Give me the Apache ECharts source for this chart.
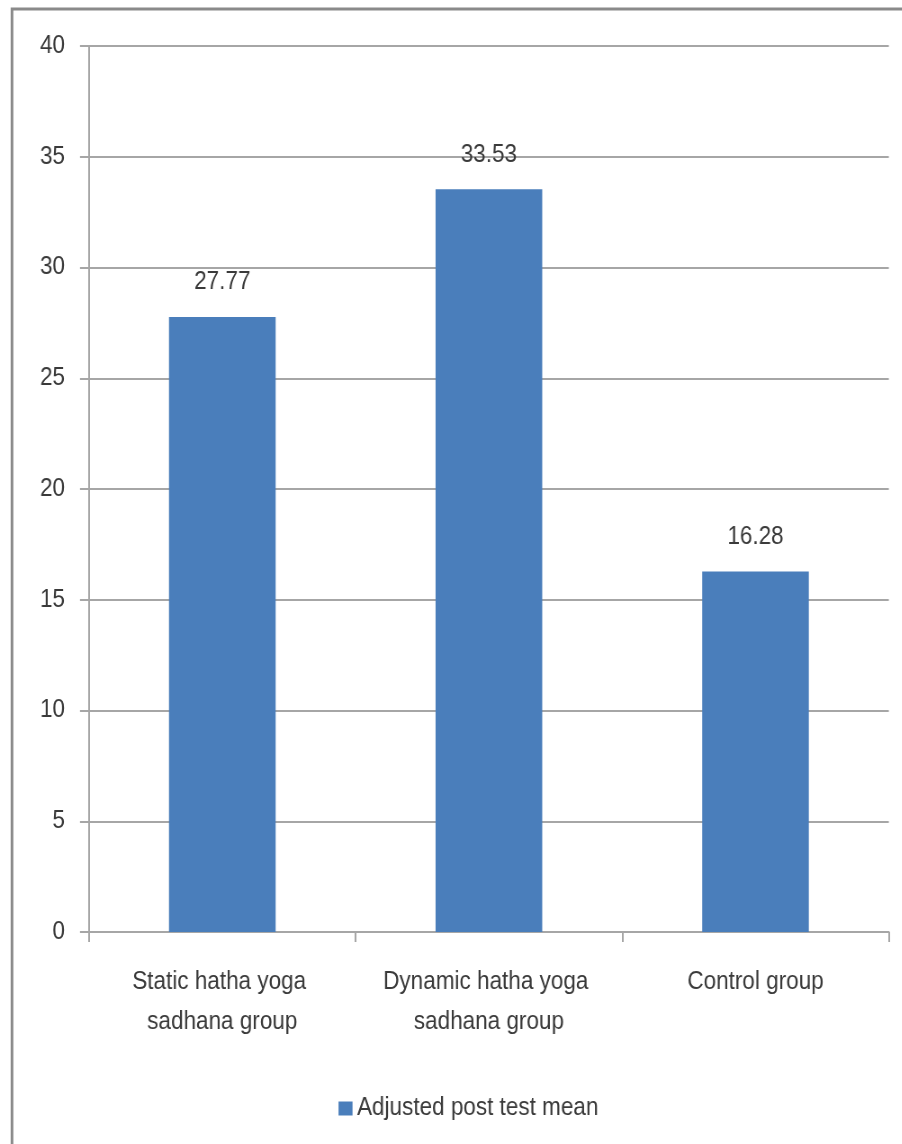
<!DOCTYPE html>
<html>
<head>
<meta charset="utf-8">
<script src="https://cdn.jsdelivr.net/npm/echarts@6/dist/echarts.min.js"></script>
<style>
  html, body { margin: 0; padding: 0; background: #fff; overflow: hidden; }
  #wrap { width: 902px; height: 1144px; overflow: hidden; }
  /* the chart is laid out wider and squeezed horizontally for a narrow, tall type face */
  #chart { width: 1002px; height: 1144px; transform: scaleX(0.9); transform-origin: 0 0; }
</style>
</head>
<body>
<div id="wrap"><div id="chart"></div></div>
<script>
// Group names along the x axis
const categories = [
  'Static hatha yoga sadhana group',
  'Dynamic hatha yoga sadhana group',
  'Control group'
];
// Adjusted post test mean per group
const adjustedMeans = [27.77, 33.53, 16.28];
const seriesName = 'Adjusted post test mean';

const SX = 0.9;                       // horizontal squeeze applied by CSS
const px = v => v / SX;               // page-x distance -> chart-x distance
const FONT = '"Liberation Sans", Arial, sans-serif';
const TEXT = '#3a3a3a';
const LINE = '#a6a6a6';

const chart = echarts.init(document.getElementById('chart'), null, { renderer: 'canvas' });
chart.setOption({
  animation: false,
  backgroundColor: '#fff',
  graphic: [{
    type: 'rect',
    shape: { x: px(12), y: 9, width: 1100, height: 1300 },
    style: { fill: 'none', stroke: '#8a8a8a', lineWidth: 3 },
    silent: true
  }],
  grid: { left: px(89), right: px(13), top: 46, bottom: 212 },
  legend: {
    left: px(334), top: 1091,
    itemWidth: px(14), itemHeight: 14, itemGap: 8,
    icon: 'rect',
    textStyle: { fontFamily: FONT, fontSize: 25, color: TEXT },
    data: [seriesName]
  },
  xAxis: {
    type: 'category',
    data: categories,
    axisLine: { lineStyle: { color: LINE, width: 2 } },
    axisTick: { show: true, length: 10, alignWithLabel: false, lineStyle: { color: LINE, width: 2 } },
    axisLabel: {
      margin: 30, interval: 0,
      fontFamily: FONT, fontSize: 25, color: TEXT,
      lineHeight: 40, width: 260, overflow: 'break'
    }
  },
  yAxis: {
    type: 'value',
    min: 0, max: 40, interval: 5,
    axisLine: { show: true, lineStyle: { color: LINE, width: 2 } },
    axisTick: { show: true, length: px(9), lineStyle: { color: LINE, width: 2 } },
    splitLine: { lineStyle: { color: LINE, width: 2 } },
    axisLabel: { margin: px(24), fontFamily: FONT, fontSize: 25, color: TEXT }
  },
  series: [{
    name: seriesName,
    type: 'bar',
    data: adjustedMeans,
    barWidth: '40%',
    itemStyle: { color: '#4a7ebb' },
    label: {
      show: true, position: 'top', distance: 22,
      fontFamily: FONT, fontSize: 25, color: TEXT,
      formatter: p => p.value.toFixed(2)
    }
  }]
});
</script>
</body>
</html>
